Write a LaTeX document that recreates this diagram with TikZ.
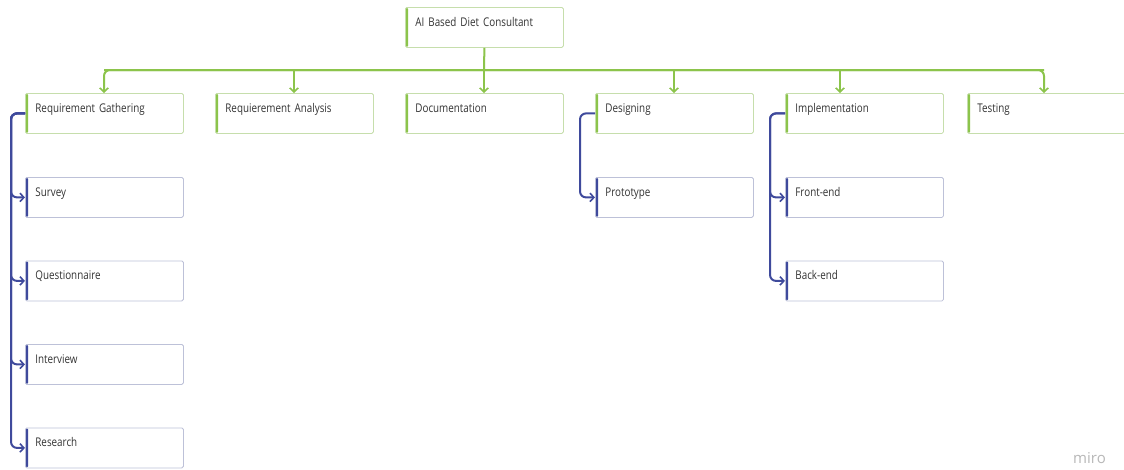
\documentclass[tikz,border=0pt]{standalone}
\usepackage{fontspec}
\setmainfont{Open Sans}[FakeStretch=0.82]
\newfontfamily\brandfont{Open Sans}
\usetikzlibrary{arrows.meta}

\definecolor{leafgreen}{HTML}{8CC44B}
\definecolor{greenedge}{HTML}{C6DEAC}
\definecolor{navy}{HTML}{3F4A9C}
\definecolor{navyedge}{HTML}{BDC1D8}
\definecolor{labelgray}{HTML}{333333}

% label font with a tighter word space
\protected\def\boxlabelfont{\fontsize{12}{14}\selectfont
  \spaceskip=2.5pt plus 1pt\relax}

\tikzset{
  box/.style={
    line width=0.8pt, rounded corners=1.5pt, fill=white,
    anchor=north west, inner xsep=10pt, inner ysep=10pt,
    text width=138pt, align=left, text height=9pt, text depth=11pt,
    font=\boxlabelfont, text=labelgray
  },
  gbox/.style={box, draw=greenedge,
    path picture={\fill[leafgreen]
      (path picture bounding box.north west) rectangle
      ([xshift=2.6pt]path picture bounding box.south west);}},
  bbox/.style={box, draw=navyedge,
    path picture={\fill[navy]
      (path picture bounding box.north west) rectangle
      ([xshift=2.6pt]path picture bounding box.south west);}},
  tip/.style={-{Straight Barb[length=4pt,width=8.5pt,line width=1.6pt]}},
  gline/.style={draw=leafgreen, line width=2pt},
  bline/.style={draw=navy, line width=2pt, rounded corners=6pt},
}

\begin{document}
\begin{tikzpicture}[x=1pt,y=-1pt]
  \useasboundingbox[fill=white] (0,0) rectangle (1124,469);

  % root
  \node[gbox] (root) at (405,7) {AI Based Diet Consultant};

  % first level
  \node[gbox] (gath) at (25,93)  {Requirement Gathering};
  \node[gbox] (ana)  at (215,93) {Requierement Analysis};
  \node[gbox] (doc)  at (405,93) {Documentation};
  \node[gbox] (des)  at (595,93) {Designing};
  \node[gbox] (impl) at (785,93) {Implementation};
  \node[gbox] (test) at (967,93) {Testing};

  % second level
  \node[bbox] (surv)  at (25,177)   {Survey};
  \node[bbox] (quest) at (25,260.5) {Questionnaire};
  \node[bbox] (intv)  at (25,344)   {Interview};
  \node[bbox] (res)   at (25,427.5) {Research};
  \node[bbox] (proto) at (595,177)  {Prototype};
  \node[bbox] (front) at (785,177)  {Front-end};
  \node[bbox] (back)  at (785,260.5){Back-end};

  % drop points on the green bus
  \coordinate (d1) at (104,70);
  \coordinate (d2) at (294,70);
  \coordinate (d3) at (484,70);
  \coordinate (d4) at (674,70);
  \coordinate (d5) at (840,70);
  \coordinate (d6) at (1044,70);

  % green bus and drops
  \draw[gline] (root.south) -- (d3);
  \draw[gline, rounded corners=6pt, tip]
    (d6) -- (d1) -- (d1 |- gath.north);
  \draw[gline, rounded corners=6pt, tip]
    (d1) -- (d6) -- (d6 |- test.north);
  \draw[gline, tip] (d2) -- (d2 |- ana.north);
  \draw[gline, tip] (d3) -- (d3 |- doc.north);
  \draw[gline, tip] (d4) -- (d4 |- des.north);
  \draw[gline, tip] (d5) -- (d5 |- impl.north);

  % navy branches
  \foreach \c in {surv,quest,intv,res}
    \draw[bline, tip] (gath.west) -- ++(-14,0) |- (\c.west);
  \draw[bline, tip] (des.west) -- ++(-15,0) |- (proto.west);
  \foreach \c in {front,back}
    \draw[bline, tip] (impl.west) -- ++(-15,0) |- (\c.west);

  % brand mark
  \node[anchor=base east, inner sep=0pt, text=black!28,
        font=\brandfont\fontsize{15}{15}\selectfont] (brand) at (1106,463) {miro};
\end{tikzpicture}
\end{document}
